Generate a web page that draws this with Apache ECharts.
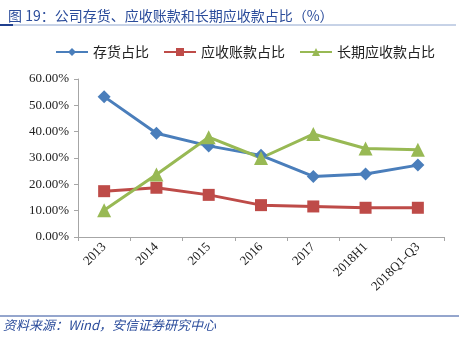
<!DOCTYPE html>
<html><head><meta charset="utf-8">
<script src="https://cdn.jsdelivr.net/npm/echarts@6/dist/echarts.min.js"></script>
<style>html,body{margin:0;padding:0;background:#fff}#c{width:459px;height:340px}</style>
</head><body><div id="c"></div>
<script>
const categories = ['2013','2014','2015','2016','2017','2018H1','2018Q1-Q3'];
const inventory = [53.3, 39.4, 34.6, 31.0, 23.0, 23.9, 27.3];
const receivables = [17.4, 18.7, 16.0, 12.1, 11.6, 11.1, 11.1];
const longTerm = [10.2, 23.7, 37.9, 30.0, 39.1, 33.6, 33.1];
const seriesNames = ['存货占比','应收账款占比','长期应收款占比'];
const yTicks = [0,10,20,30,40,50,60];

const chart = echarts.init(document.getElementById('c'));
const serif = '"Liberation Serif", "Times New Roman", serif';
const cjk = '"Noto Sans CJK SC", sans-serif';
chart.setOption({
  animation:false,
  title:{text:'图 19：公司存货、应收账款和长期应收款占比（%）',left:3,top:4,
    textStyle:{fontSize:14,fontWeight:'normal',color:'#2b4c9b',fontFamily:cjk}},
  graphic:[
    {type:'line',shape:{x1:0,y1:25,x2:456,y2:25},style:{stroke:'#8fa6cf',lineWidth:1}},
    {type:'line',shape:{x1:0,y1:25,x2:13,y2:25},style:{stroke:'#1f3f8f',lineWidth:2}},
    {type:'line',shape:{x1:0,y1:316,x2:459,y2:316},style:{stroke:'#2b4c9b',lineWidth:1}},
    {type:'text',left:3,top:319,style:{text:'资料来源：Wind，安信证券研究中心',fill:'#2b4c9b',font:'italic 13px "Noto Sans CJK SC", sans-serif'}}
  ],
  legend:{top:40,left:50,itemGap:14,itemWidth:32,itemHeight:10,
    textStyle:{fontSize:14,color:'#222',fontFamily:cjk},data:seriesNames},
  grid:{left:78,right:15,top:79,bottom:103,containLabel:false},
  xAxis:{type:'category',data:categories,boundaryGap:true,
    axisLine:{lineStyle:{color:'#a6a6a6'}},
    axisTick:{show:true,lineStyle:{color:'#a6a6a6'},length:4},
    axisLabel:{rotate:45,fontSize:13,color:'#222',fontFamily:serif,margin:8,interval:0}},
  yAxis:{type:'value',min:0,max:60,interval:10,
    axisLine:{show:true,lineStyle:{color:'#a6a6a6'}},
    axisTick:{show:true,lineStyle:{color:'#a6a6a6'},length:4},
    splitLine:{show:false},
    axisLabel:{fontSize:13,color:'#222',fontFamily:serif,margin:9,
      formatter:v=>yTicks.includes(v)?v.toFixed(2)+'%':''}},
  series:[
    {name:seriesNames[0],type:'line',data:inventory,symbol:'diamond',symbolSize:13,
      lineStyle:{color:'#4a7ebb',width:3},itemStyle:{color:'#4a7ebb'}},
    {name:seriesNames[1],type:'line',data:receivables,symbol:'rect',symbolSize:12,
      lineStyle:{color:'#be4b48',width:3},itemStyle:{color:'#be4b48'}},
    {name:seriesNames[2],type:'line',data:longTerm,symbol:'triangle',symbolSize:14,
      lineStyle:{color:'#98b954',width:3},itemStyle:{color:'#98b954'}}
  ]
});
</script></body></html>
